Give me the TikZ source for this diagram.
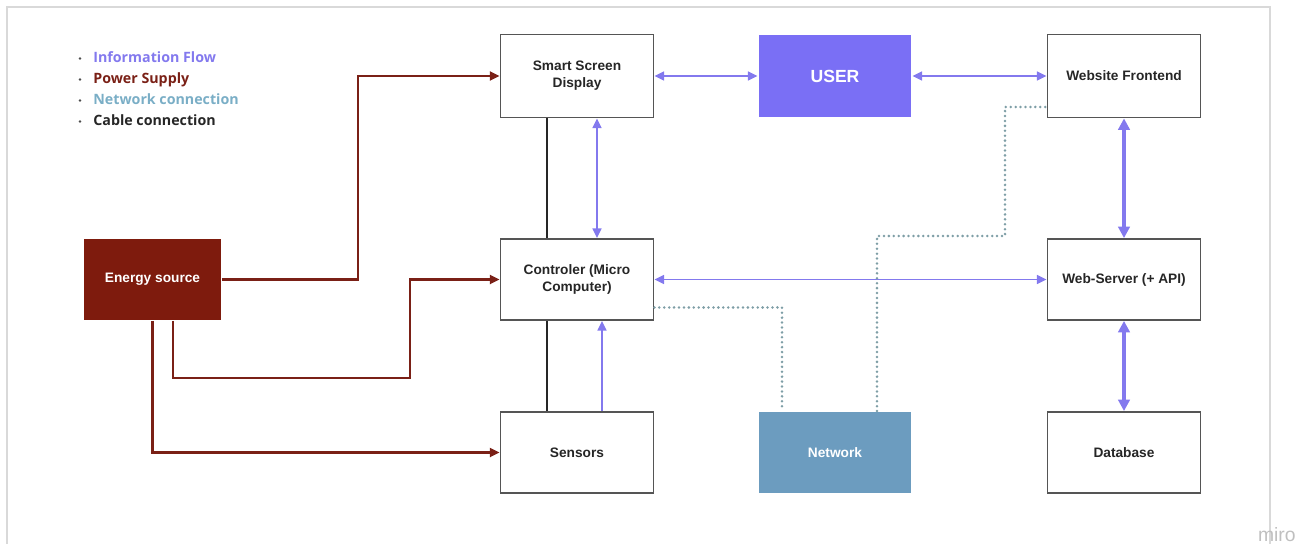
\documentclass[tikz,border=0pt]{standalone}
\usepackage{fontspec}
\setmainfont{Liberation Sans}
\newfontfamily\legendfont{Open Sans}
\usetikzlibrary{arrows.meta,positioning}

\definecolor{infoc}{HTML}{8379EE}
\definecolor{userc}{HTML}{7A6FF5}
\definecolor{powerc}{HTML}{7A2016}
\definecolor{energyc}{HTML}{7E1B0D}
\definecolor{netfill}{HTML}{6C9CBF}
\definecolor{netline}{HTML}{7E9EA6}
\definecolor{netleg}{HTML}{7AAEC6}
\definecolor{edgec}{HTML}{555555}
\definecolor{framec}{HTML}{D9D9D9}

\tikzset{
  box/.style={draw=edgec, line width=1.05pt, fill=white, minimum width=3.06cm,
    minimum height=1.66cm, inner sep=0pt, align=center,
    font=\fontsize{7.8}{9.6}\selectfont\bfseries, text=black!85},
  filled/.style={box, draw=none, text=white},
  power/.style={draw=powerc, line width=1.5pt, -{Triangle[length=5.5pt,width=5pt]}},
  info/.style={draw=infoc, line width=1.1pt, {Triangle[length=5.5pt,width=5pt]}-{Triangle[length=5.5pt,width=5pt]}},
  infoup/.style={draw=infoc, line width=1.1pt, -{Triangle[length=5.5pt,width=5pt]}},
  infothick/.style={draw=infoc, line width=2pt, {Triangle[length=6.5pt,width=6.5pt]}-{Triangle[length=6.5pt,width=6.5pt]}},
  cable/.style={draw=black!85, line width=1.3pt},
  netlink/.style={draw=netline, line width=1.6pt, line cap=round, dash pattern=on 0pt off 2.8pt},
  legend/.style={anchor=base west, inner sep=0pt, font=\legendfont\fontsize{8.1}{9}\selectfont\bfseries},
}

\begin{document}
\begin{tikzpicture}[x=0.02cm, y=-0.02cm]
\useasboundingbox (0,0) rectangle (1301,544);
\clip (0,0) rectangle (1301,544);

% board frame
\draw[framec, line width=0.8pt] (7,560) -- (7,7) -- (1270,7) -- (1270,560);
\node[anchor=south east, inner sep=0pt, text=black!25, font=\fontsize{11}{11}\selectfont] (brand) at (1296,542) {miro};

% legend
\foreach \yy/\cc/\tt [count=\i] in {58/infoc/Information Flow, 79/powerc/Power Supply, 100/netleg/Network connection, 121/black!85/Cable connection}{
  \node[legend, text=\cc] (leg\i) at (93,\yy+5) {\tt};
  \fill[black!70] (80,\yy+0.5) circle (1.4);
}

% blocks
\node[box] (screen) at (577,76) {Smart Screen\\Display};
\node[filled, fill=userc, font=\fontsize{10}{11}\selectfont\bfseries] (user) at (835,76) {USER};
\node[box] (front) at (1124,76) {Website Frontend};
\node[filled, fill=energyc, minimum width=2.74cm, minimum height=1.62cm] (energy) at (152.5,279.5) {Energy source};
\node[box, minimum height=1.62cm] (ctrl) at (577,279.5) {Controler (Micro\\Computer)};
\node[box, minimum height=1.62cm] (server) at (1124,279.5) {Web-Server (+ API)};
\node[box, minimum height=1.62cm] (sens) at (577,452.5) {Sensors};
\node[filled, fill=netfill, minimum height=1.62cm] (net) at (835,452.5) {Network};
\node[box, minimum height=1.62cm] (db) at (1124,452.5) {Database};

% power supply
\draw[power] (energy.east) -- (358,279.5) |- (screen.west);
\draw[power] ([xshift=0.41cm]energy.south) |- (410,378) |- (ctrl.west);
\draw[power] (energy.south) |- (sens.west);

% cables
\draw[cable] ([xshift=-0.6cm]screen.south) -- ([xshift=-0.6cm]ctrl.north);
\draw[cable] ([xshift=-0.6cm]ctrl.south) -- ([xshift=-0.6cm]sens.north);

% information flow
\draw[info] (screen.east) -- (user.west);
\draw[info] (user.east) -- (front.west);
\draw[info] ([xshift=0.4cm]screen.south) -- ([xshift=0.4cm]ctrl.north);
\draw[infoup] ([xshift=0.5cm]sens.north) -- ([xshift=0.5cm]ctrl.south);
\draw[info] (ctrl.east) -- (server.west);
\draw[infothick] (front.south) -- (server.north);
\draw[infothick] (server.south) -- (db.north);

% network links
\draw[netlink] ([yshift=-0.56cm]ctrl.east) -| ([xshift=-1.06cm]net.north);
\draw[netlink] ([xshift=0.84cm]net.north) |- (1005,236) |- ([yshift=-0.62cm]front.west);
\end{tikzpicture}
\end{document}
